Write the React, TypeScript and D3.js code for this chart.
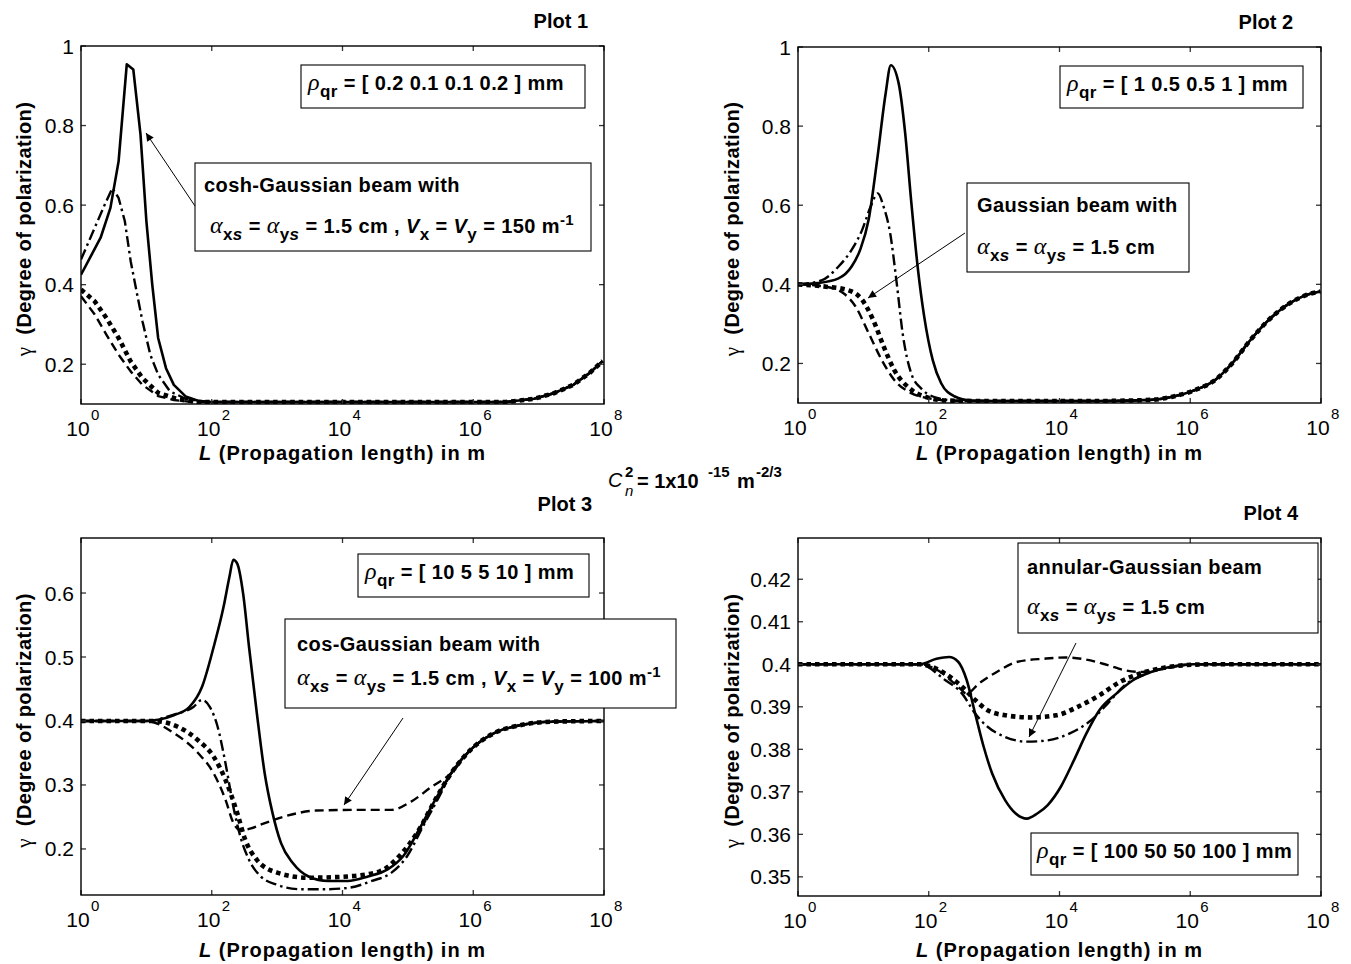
import React from 'react';
import * as d3 from 'd3';

type Pt = [number, number];

// x = log10(L in m), y = degree of polarization

// Plot 1 : cosh-Gaussian, rho = [0.2 0.1 0.1 0.2] mm
const tail1: Pt[] = [[3, 0.105], [5, 0.105], [6.5, 0.105], [6.93, 0.113], [7.23, 0.127], [7.53, 0.148], [7.78, 0.178], [7.98, 0.208]];
const solid1: Pt[] = [[0, 0.425], [0.3, 0.518], [0.45, 0.593], [0.575, 0.71], [0.7, 0.954], [0.8, 0.941], [0.91, 0.778], [1.0, 0.56], [1.09, 0.4], [1.18, 0.266], [1.3, 0.19], [1.42, 0.148], [1.6, 0.119], [1.79, 0.108], [2.0, 0.105]];
const dashdot1: Pt[] = [[0, 0.463], [0.21, 0.543], [0.36, 0.6], [0.48, 0.643], [0.575, 0.618], [0.67, 0.56], [0.76, 0.459], [0.85, 0.383], [0.94, 0.308], [1.06, 0.224], [1.18, 0.174], [1.36, 0.132], [1.6, 0.113], [1.9, 0.105]];
const dotted1: Pt[] = [[0, 0.388], [0.21, 0.358], [0.39, 0.316], [0.575, 0.266], [0.76, 0.207], [0.94, 0.165], [1.18, 0.128], [1.48, 0.112], [1.8, 0.105]];
const dashed1: Pt[] = [[0, 0.371], [0.21, 0.325], [0.39, 0.274], [0.575, 0.224], [0.76, 0.182], [0.94, 0.148], [1.18, 0.12], [1.42, 0.11], [1.7, 0.105]];

// Plot 2 : Gaussian, rho = [1 0.5 0.5 1] mm
const tail2: Pt[] = [[3, 0.105], [4.5, 0.105], [5.4, 0.108], [5.73, 0.116], [6.06, 0.132], [6.38, 0.158], [6.64, 0.2], [6.9, 0.255], [7.17, 0.305], [7.5, 0.35], [7.76, 0.372], [7.99, 0.382]];
const solid2: Pt[] = [[0, 0.4], [0.3, 0.403], [0.62, 0.415], [0.82, 0.445], [0.95, 0.487], [1.08, 0.563], [1.21, 0.714], [1.34, 0.882], [1.42, 0.954], [1.54, 0.908], [1.64, 0.781], [1.73, 0.613], [1.83, 0.445], [1.93, 0.319], [2.06, 0.209], [2.19, 0.15], [2.39, 0.117], [2.65, 0.106]];
const dashdot2: Pt[] = [[0, 0.4], [0.36, 0.41], [0.62, 0.445], [0.82, 0.487], [0.98, 0.537], [1.11, 0.596], [1.22, 0.63], [1.31, 0.596], [1.41, 0.529], [1.51, 0.403], [1.6, 0.277], [1.73, 0.176], [1.9, 0.134], [2.13, 0.113], [2.4, 0.106]];
const dotted2: Pt[] = [[0, 0.4], [0.43, 0.394], [0.75, 0.386], [0.98, 0.361], [1.15, 0.31], [1.31, 0.243], [1.47, 0.184], [1.73, 0.134], [2.0, 0.113], [2.3, 0.106]];
const dashed2: Pt[] = [[0, 0.4], [0.43, 0.394], [0.69, 0.378], [0.88, 0.344], [1.08, 0.277], [1.28, 0.209], [1.47, 0.159], [1.73, 0.125], [2.0, 0.112], [2.3, 0.106]];

// Plot 3 : cos-Gaussian, rho = [10 5 5 10] mm
const tail3: Pt[] = [[5.66, 0.318], [5.96, 0.355], [6.32, 0.381], [6.75, 0.394], [7.23, 0.399], [8, 0.4]];
const solid3: Pt[] = [[0, 0.4], [1.0, 0.4], [1.18, 0.402], [1.42, 0.409], [1.66, 0.422], [1.85, 0.453], [2.03, 0.516], [2.18, 0.578], [2.27, 0.625], [2.33, 0.652], [2.39, 0.646], [2.48, 0.599], [2.57, 0.516], [2.69, 0.412], [2.81, 0.318], [2.93, 0.256], [3.06, 0.209], [3.24, 0.178], [3.48, 0.157], [3.78, 0.15], [4.08, 0.15], [4.39, 0.157], [4.69, 0.168], [4.93, 0.189], [5.17, 0.23], [5.42, 0.277]];
const dashdot3: Pt[] = [[0, 0.4], [1.0, 0.4], [1.42, 0.41], [1.72, 0.422], [1.85, 0.433], [1.97, 0.422], [2.09, 0.391], [2.21, 0.334], [2.33, 0.266], [2.45, 0.215], [2.57, 0.183], [2.75, 0.157], [3.0, 0.144], [3.36, 0.137], [3.72, 0.137], [4.08, 0.139], [4.45, 0.15], [4.75, 0.163], [4.99, 0.189], [5.23, 0.235], [5.48, 0.282]];
const dotted3: Pt[] = [[0, 0.4], [1.1, 0.4], [1.48, 0.391], [1.79, 0.37], [2.03, 0.344], [2.21, 0.308], [2.39, 0.256], [2.51, 0.215], [2.69, 0.183], [3.0, 0.163], [3.48, 0.155], [4.08, 0.157], [4.57, 0.165], [4.87, 0.189], [5.17, 0.23], [5.42, 0.277]];
const dashed3: Pt[] = [[0, 0.4], [1.0, 0.4], [1.42, 0.381], [1.79, 0.35], [2.03, 0.318], [2.21, 0.277], [2.33, 0.241], [2.45, 0.229], [2.6, 0.232], [2.75, 0.238], [3.12, 0.251], [3.6, 0.26], [4.2, 0.261], [4.75, 0.261], [5.05, 0.274], [5.36, 0.297]];

// Plot 4 : annular-Gaussian, rho = [100 50 50 100] mm
const solid4: Pt[] = [[0, 0.4], [1.86, 0.4], [2.12, 0.4013], [2.31, 0.4017], [2.45, 0.4006], [2.58, 0.3963], [2.71, 0.3884], [2.84, 0.3806], [2.97, 0.3743], [3.17, 0.368], [3.33, 0.3649], [3.5, 0.3637], [3.66, 0.3649], [3.82, 0.3669], [4.02, 0.3712], [4.22, 0.3774], [4.41, 0.3837], [4.61, 0.3892], [4.87, 0.3931], [5.13, 0.3963], [5.4, 0.3982], [5.72, 0.3995], [6.05, 0.4], [8, 0.4]];
const dashed4: Pt[] = [[0, 0.4], [1.86, 0.4], [2.18, 0.3982], [2.45, 0.3947], [2.58, 0.3931], [2.77, 0.3955], [3.04, 0.3982], [3.36, 0.4006], [3.76, 0.4013], [4.09, 0.4016], [4.41, 0.4011], [4.74, 0.3998], [5.0, 0.3986], [5.27, 0.3982], [5.53, 0.3988], [5.79, 0.3995], [6.05, 0.4], [8, 0.4]];
const dotted4: Pt[] = [[0, 0.4], [1.86, 0.4], [2.25, 0.3978], [2.51, 0.3947], [2.71, 0.3916], [2.9, 0.3892], [3.17, 0.388], [3.56, 0.3875], [3.95, 0.388], [4.28, 0.39], [4.61, 0.3927], [4.93, 0.3959], [5.27, 0.398], [5.6, 0.3992], [5.93, 0.3998], [6.3, 0.4], [8, 0.4]];
const dashdot4: Pt[] = [[0, 0.4], [1.86, 0.4], [2.25, 0.3963], [2.51, 0.3931], [2.71, 0.3884], [2.9, 0.3853], [3.17, 0.3829], [3.5, 0.3818], [3.82, 0.3821], [4.15, 0.3837], [4.48, 0.3868], [4.74, 0.3908], [5.0, 0.3951], [5.33, 0.3978], [5.72, 0.3994], [6.1, 0.4], [8, 0.4]];

const xTickExp = [0, 2, 4, 6, 8];
const yTicks12 = [0.2, 0.4, 0.6, 0.8, 1];
const yTicks3 = [0.2, 0.3, 0.4, 0.5, 0.6];
const yTicks4 = [0.35, 0.36, 0.37, 0.38, 0.39, 0.4, 0.41, 0.42];

const SANS = 'Arial, "Liberation Sans", Helvetica, sans-serif';
const SERIF = '"Liberation Serif", "Times New Roman", serif';

const styles: Record<string, { dash?: string; width: number }> = {
  dotted: { dash: '4.5 4', width: 4.6 },
  dashed: { dash: '9 5', width: 2.4 },
  dashdot: { dash: '11 4 2.5 4', width: 2.4 },
  solid: { width: 2.6 },
};

type Frame = { l: number; t: number; r: number; b: number };
type Series = { kind: string; pts: Pt[] };

function Panel({ id, frame, yDomain, yTicks, series, smooth, xLabelY, yLabelX }: {
  id: string; frame: Frame; yDomain: [number, number]; yTicks: number[]; series: Series[];
  smooth: boolean; xLabelY: number; yLabelX: number;
}) {
  const x = d3.scaleLog().domain([1, 1e8]).range([frame.l, frame.r]);
  const y = d3.scaleLinear().domain(yDomain).range([frame.b, frame.t]);
  const line = d3.line<Pt>()
    .x(d => x(Math.pow(10, d[0])))
    .y(d => y(d[1]))
    .curve(smooth ? d3.curveMonotoneX : d3.curveLinear);
  const cx = (frame.l + frame.r) / 2;
  const cy = (frame.t + frame.b) / 2 + 4;
  const tl = 5;
  return (
    <g>
      <clipPath id={id}>
        <rect x={frame.l} y={frame.t} width={frame.r - frame.l} height={frame.b - frame.t} />
      </clipPath>
      <g clipPath={`url(#${id})`}>
        {series.map((s, i) => (
          <path key={i} d={line(s.pts) || ''} fill="none" stroke="#000"
            strokeWidth={styles[s.kind].width} strokeDasharray={styles[s.kind].dash}
            strokeLinejoin="round" />
        ))}
      </g>
      {xTickExp.map(e => {
        const px = x(Math.pow(10, e));
        return (
          <g key={e}>
            <line x1={px} x2={px} y1={frame.b} y2={frame.b - tl} stroke="#333" strokeWidth={1.3} />
            <line x1={px} x2={px} y1={frame.t} y2={frame.t + tl} stroke="#333" strokeWidth={1.3} />
            <text x={px - 3} y={frame.b + 32} fontFamily={SANS} fontSize={21} textAnchor="middle">10</text>
            <text x={px + 10} y={frame.b + 16} fontFamily={SANS} fontSize={15}>{e}</text>
          </g>
        );
      })}
      {yTicks.map(v => {
        const py = y(v);
        return (
          <g key={v}>
            <line x1={frame.l} x2={frame.l + tl} y1={py} y2={py} stroke="#333" strokeWidth={1.3} />
            <line x1={frame.r} x2={frame.r - tl} y1={py} y2={py} stroke="#333" strokeWidth={1.3} />
            <text x={frame.l - 7} y={py + 7.5} fontFamily={SANS} fontSize={21} textAnchor="end">{String(v)}</text>
          </g>
        );
      })}
      <rect x={frame.l} y={frame.t} width={frame.r - frame.l} height={frame.b - frame.t}
        fill="none" stroke="#000" strokeWidth={1.4} />
      <text x={cx} y={xLabelY} fontFamily={SANS} fontSize={20} fontWeight="bold" textAnchor="middle"
        letterSpacing={1} style={{ whiteSpace: 'pre' }}>
        <tspan fontStyle="italic">L</tspan>
        <tspan> (Propagation length) in m</tspan>
      </text>
      <text transform={`translate(${yLabelX},${cy}) rotate(-90)`} fontFamily={SANS} fontSize={20}
        fontWeight="bold" textAnchor="middle" letterSpacing={0.4} style={{ whiteSpace: 'pre' }}>
        <tspan fontFamily={SERIF} fontWeight="normal" fontSize={21}>γ</tspan>
        <tspan>  (Degree of polarization)</tspan>
      </text>
    </g>
  );
}

const BOX_FONT = 20;
const LS = 0.4;

function Rho({ x, y, vals }: { x: number; y: number; vals: string }) {
  return (
    <text x={x} y={y} fontFamily={SANS} fontSize={BOX_FONT} fontWeight="bold" letterSpacing={LS}
      style={{ whiteSpace: 'pre' }}>
      <tspan fontFamily={SERIF} fontStyle="italic" fontWeight="normal" fontSize={24}>ρ</tspan>
      <tspan dy={7} fontSize={17}>qr</tspan>
      <tspan dy={-7}>{` = [ ${vals} ] mm`}</tspan>
    </text>
  );
}

function Alpha({ x, y, v }: { x: number; y: number; v?: string }) {
  return (
    <text x={x} y={y} fontFamily={SANS} fontSize={BOX_FONT} fontWeight="bold" letterSpacing={LS}
      style={{ whiteSpace: 'pre' }}>
      <tspan fontFamily={SERIF} fontStyle="italic" fontWeight="normal" fontSize={24}>α</tspan>
      <tspan dy={7} fontSize={17}>x<tspan fontStyle="italic">s</tspan></tspan>
      <tspan dy={-7}> = </tspan>
      <tspan fontFamily={SERIF} fontStyle="italic" fontWeight="normal" fontSize={24}>α</tspan>
      <tspan dy={7} fontSize={17}>y<tspan fontStyle="italic">s</tspan></tspan>
      <tspan dy={-7}> = 1.5 cm</tspan>
      {v && (
        <>
          <tspan> , </tspan>
          <tspan fontStyle="italic">V</tspan>
          <tspan dy={7} fontSize={17}>x</tspan>
          <tspan dy={-7}> = </tspan>
          <tspan fontStyle="italic">V</tspan>
          <tspan dy={7} fontSize={17}>y</tspan>
          <tspan dy={-7}>{` = ${v} m`}</tspan>
          <tspan dy={-8} fontSize={15}>-1</tspan>
        </>
      )}
    </text>
  );
}

function Label({ x, y, children }: { x: number; y: number; children: string }) {
  return (
    <text x={x} y={y} fontFamily={SANS} fontSize={BOX_FONT} fontWeight="bold" letterSpacing={LS}>{children}</text>
  );
}

function Box({ x, y, w, h }: { x: number; y: number; w: number; h: number }) {
  return <rect x={x} y={y} width={w} height={h} fill="#fff" stroke="#000" strokeWidth={1.1} />;
}

function Arrow({ x1, y1, x2, y2 }: { x1: number; y1: number; x2: number; y2: number }) {
  return <line x1={x1} y1={y1} x2={x2} y2={y2} stroke="#000" strokeWidth={1} markerEnd="url(#ah)" />;
}

const frame1: Frame = { l: 81, t: 46, r: 604, b: 404 };
const frame2: Frame = { l: 798, t: 47, r: 1321, b: 403 };
const frame3: Frame = { l: 81, t: 538, r: 604, b: 895 };
const frame4: Frame = { l: 798, t: 538, r: 1321, b: 896 };

export default function App() {
  const s1: Series[] = [
    { kind: 'dotted', pts: [...dotted1, ...tail1] },
    { kind: 'dashed', pts: [...dashed1, ...tail1] },
    { kind: 'dashdot', pts: [...dashdot1, ...tail1] },
    { kind: 'solid', pts: [...solid1, ...tail1] },
  ];
  const s2: Series[] = [
    { kind: 'dotted', pts: [...dotted2, ...tail2] },
    { kind: 'dashed', pts: [...dashed2, ...tail2] },
    { kind: 'dashdot', pts: [...dashdot2, ...tail2] },
    { kind: 'solid', pts: [...solid2, ...tail2] },
  ];
  const s3: Series[] = [
    { kind: 'dotted', pts: [...dotted3, ...tail3] },
    { kind: 'dashed', pts: [...dashed3, ...tail3] },
    { kind: 'dashdot', pts: [...dashdot3, ...tail3] },
    { kind: 'solid', pts: [...solid3, ...tail3] },
  ];
  const s4: Series[] = [
    { kind: 'dotted', pts: dotted4 },
    { kind: 'dashed', pts: dashed4 },
    { kind: 'dashdot', pts: dashdot4 },
    { kind: 'solid', pts: solid4 },
  ];
  const title = { fontFamily: SANS, fontSize: 20, fontWeight: 'bold' as const, textAnchor: 'end' as const };
  return (
    <svg width={1351} height={964} style={{ position: 'absolute', left: 0, top: 0, background: '#fff' }}>
      <defs>
        <marker id="ah" viewBox="0 0 10 10" refX={10} refY={5} markerWidth={11} markerHeight={8}
          orient="auto" markerUnits="userSpaceOnUse">
          <path d="M0,0 L10,5 L0,10 z" fill="#000" />
        </marker>
      </defs>
      <rect width={1351} height={964} fill="#fff" />

      <Panel id="c1" frame={frame1} yDomain={[0.1, 1]} yTicks={yTicks12} series={s1} smooth={false} xLabelY={460} yLabelX={31} />
      <Panel id="c2" frame={frame2} yDomain={[0.1, 1]} yTicks={yTicks12} series={s2} smooth={true} xLabelY={460} yLabelX={739} />
      <Panel id="c3" frame={frame3} yDomain={[0.128, 0.686]} yTicks={yTicks3} series={s3} smooth={true} xLabelY={957} yLabelX={31} />
      <Panel id="c4" frame={frame4} yDomain={[0.3455, 0.4297]} yTicks={yTicks4} series={s4} smooth={true} xLabelY={957} yLabelX={739} />

      {/* Plot 1 annotations */}
      <Box x={301} y={65} w={284} h={43} />
      <Rho x={308} y={90} vals="0.2 0.1 0.1 0.2" />
      <Box x={195} y={163} w={396} h={88} />
      <Label x={204} y={192}>cosh-Gaussian beam with</Label>
      <Alpha x={210} y={233} v="150" />
      <Arrow x1={195} y1={206} x2={146} y2={133} />

      {/* Plot 2 annotations */}
      <Box x={1060} y={66} w={243} h={42} />
      <Rho x={1067} y={91} vals="1 0.5 0.5 1" />
      <Box x={967} y={183} w={222} h={89} />
      <Label x={977} y={212}>Gaussian beam with</Label>
      <Alpha x={977} y={254} />
      <Arrow x1={965} y1={233} x2={868} y2={298} />

      {/* Plot 3 annotations */}
      <Box x={358} y={554} w={231} h={43} />
      <Rho x={365} y={579} vals="10 5 5 10" />
      <Box x={285} y={619} w={391} h={89} />
      <Label x={297} y={651}>cos-Gaussian beam with</Label>
      <Alpha x={297} y={685} v="100" />
      <Arrow x1={403} y1={718} x2={344} y2={805} />

      {/* Plot 4 annotations */}
      <Box x={1018} y={543} w={300} h={90} />
      <Label x={1027} y={574}>annular-Gaussian beam</Label>
      <Alpha x={1027} y={614} />
      <Arrow x1={1076} y1={643} x2={1029} y2={737} />
      <Box x={1031} y={833} w={267} h={42} />
      <Rho x={1037} y={858} vals="100 50 50 100" />

      {/* titles */}
      <text x={588} y={28} {...title}>Plot 1</text>
      <text x={1293} y={29} {...title}>Plot 2</text>
      <text x={592} y={511} {...title}>Plot 3</text>
      <text x={1298} y={520} {...title}>Plot 4</text>

      {/* turbulence strength */}
      <g fontFamily={SANS} fontWeight="bold">
        <text x={608} y={487} fontSize={20} fontStyle="italic" fontWeight="normal">C</text>
        <text x={625} y={477} fontSize={15}>2</text>
        <text x={625} y={496} fontSize={15} fontStyle="italic" fontWeight="normal">n</text>
        <text x={637} y={488} fontSize={20} style={{ whiteSpace: 'pre' }}>= 1x10</text>
        <text x={708} y={477} fontSize={15}>-15</text>
        <text x={737} y={488} fontSize={20}>m</text>
        <text x={756} y={477} fontSize={15}>-2/3</text>
      </g>
    </svg>
  );
}
